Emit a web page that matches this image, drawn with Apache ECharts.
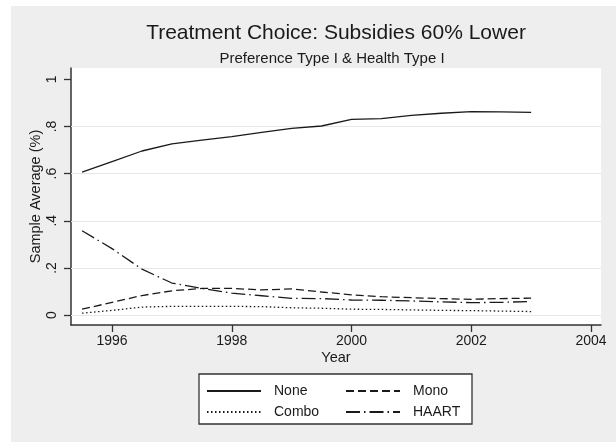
<!DOCTYPE html>
<html>
<head>
<meta charset="utf-8">
<script src="https://cdn.jsdelivr.net/npm/echarts@6/dist/echarts.min.js"></script>
<style>
  html, body { margin: 0; padding: 0; background: #ffffff; }
  #chart { width: 616px; height: 442px; }
</style>
</head>
<body>
<div id="chart"></div>
<script>
// Half-yearly sample averages of treatment choice, 1995.5 to 2003
const years = [1995.5, 1996, 1996.5, 1997, 1997.5, 1998, 1998.5, 1999, 1999.5, 2000, 2000.5, 2001, 2001.5, 2002, 2002.5, 2003];
const noneShare  = [0.606, 0.651, 0.696, 0.726, 0.742, 0.757, 0.775, 0.792, 0.802, 0.830, 0.833, 0.847, 0.856, 0.863, 0.862, 0.860];
const monoShare  = [0.025, 0.054, 0.083, 0.103, 0.113, 0.113, 0.107, 0.111, 0.098, 0.086, 0.078, 0.074, 0.070, 0.067, 0.070, 0.072];
const comboShare = [0.008, 0.020, 0.034, 0.037, 0.037, 0.037, 0.036, 0.031, 0.029, 0.025, 0.024, 0.022, 0.020, 0.019, 0.017, 0.015];
const haartShare = [0.358, 0.282, 0.195, 0.136, 0.113, 0.093, 0.082, 0.071, 0.070, 0.064, 0.063, 0.060, 0.056, 0.053, 0.054, 0.058];

const xTicks = [1996, 1998, 2000, 2002, 2004];
const yTicks = [0, 0.2, 0.4, 0.6, 0.8, 1];
const yGrid  = [0, 0.2, 0.4, 0.6, 0.8];

const FONT = '"Liberation Sans", Arial, Helvetica, sans-serif';
const INK = '#1a1a1a';

function pairs(vals) {
  return years.map((y, i) => [y, vals[i]]);
}
function yFmt(v) {
  if (Math.abs(v) < 1e-9) return '0';
  if (Math.abs(v - 1) < 1e-9) return '1';
  return String(Math.round(v * 10) / 10).replace(/^0/, '');
}

function lineSeries(name, vals, dash, extra) {
  return Object.assign({
    name: name,
    type: 'line',
    data: pairs(vals),
    symbol: 'none',
    showSymbol: false,
    smooth: false,
    z: 3,
    lineStyle: { color: INK, width: 1.3, type: dash, cap: 'butt' },
    itemStyle: { color: INK },
    emphasis: { disabled: true },
    animation: false
  }, extra || {});
}

// legend keys show the line pattern only, no marker
const legendCommon = {
  orient: 'vertical', top: 384, z: 5,
  itemWidth: 54, itemHeight: 14, itemGap: 7, padding: 0,
  selectedMode: false,
  itemStyle: { opacity: 0 },
  textStyle: { fontFamily: FONT, fontSize: 14, color: INK, padding: [0, 0, 0, 8] }
};

const chart = echarts.init(document.getElementById('chart'), null, { renderer: 'canvas' });

chart.setOption({
  animation: false,
  backgroundColor: '#ffffff',
  graphic: [
    { type: 'rect', z: -10, silent: true,
      shape: { x: 11, y: 6, width: 605, height: 436 },
      style: { fill: '#eeeeee' } },
    { type: 'rect', z: 1, silent: true,
      shape: { x: 199, y: 374, width: 273, height: 50 },
      style: { fill: '#ffffff', stroke: '#333333', lineWidth: 1.3 } }
  ],
  title: [
    { text: 'Treatment Choice: Subsidies 60% Lower', left: 331, top: 18, textAlign: 'center',
      textStyle: { fontFamily: FONT, fontSize: 21, fontWeight: 'normal', color: INK } },
    { text: 'Preference Type I & Health Type I', left: 327, top: 46, textAlign: 'center',
      textStyle: { fontFamily: FONT, fontSize: 15, fontWeight: 'normal', color: INK } }
  ],
  legend: [
    Object.assign({ data: ['None', 'Combo'], left: 206 }, legendCommon),
    Object.assign({ data: ['Mono', 'HAART'], left: 345 }, legendCommon)
  ],
  grid: {
    left: 71, right: 15, top: 68, bottom: 117,
    show: true, backgroundColor: '#ffffff', borderWidth: 0
  },
  xAxis: {
    type: 'value',
    min: 1995.315, max: 2004.167,
    name: 'Year', nameLocation: 'middle', nameGap: 25, nameMoveOverlap: false,
    nameTextStyle: { fontFamily: FONT, fontSize: 14.5, color: INK },
    axisLine: { show: true, onZero: false, lineStyle: { color: '#333333', width: 1.5 } },
    axisTick: { show: true, length: 7, customValues: xTicks, lineStyle: { color: '#333333', width: 1.3 } },
    axisLabel: { show: true, customValues: xTicks, margin: 9, showMinLabel: true, showMaxLabel: true,
      fontFamily: FONT, fontSize: 14, color: INK, formatter: v => String(v) },
    splitLine: { show: false }
  },
  yAxis: {
    type: 'value',
    min: -0.042, max: 1.048,
    name: 'Sample Average (%)', nameLocation: 'middle', nameGap: 28, nameRotate: 90, nameMoveOverlap: false,
    nameTextStyle: { fontFamily: FONT, fontSize: 14.5, color: INK },
    axisLine: { show: true, onZero: false, lineStyle: { color: '#333333', width: 1.5 } },
    axisTick: { show: true, length: 7, customValues: yTicks, lineStyle: { color: '#333333', width: 1.3 } },
    axisLabel: { show: true, customValues: yTicks, margin: 12, rotate: 90,
      fontFamily: FONT, fontSize: 14, color: INK, formatter: yFmt },
    splitLine: { show: false }
  },
  series: [
    lineSeries('None', noneShare, 'solid', {
      markLine: {
        silent: true, symbol: 'none', z: 1,
        label: { show: false },
        lineStyle: { color: '#e6e6e6', width: 1.2, type: 'solid' },
        emphasis: { disabled: true },
        data: yGrid.map(v => ({ yAxis: v }))
      }
    }),
    lineSeries('Mono', monoShare, [8, 4]),
    lineSeries('Combo', comboShare, [1.5, 2.5]),
    lineSeries('HAART', haartShare, [14, 4, 1.5, 4])
  ]
});
</script>
</body>
</html>
